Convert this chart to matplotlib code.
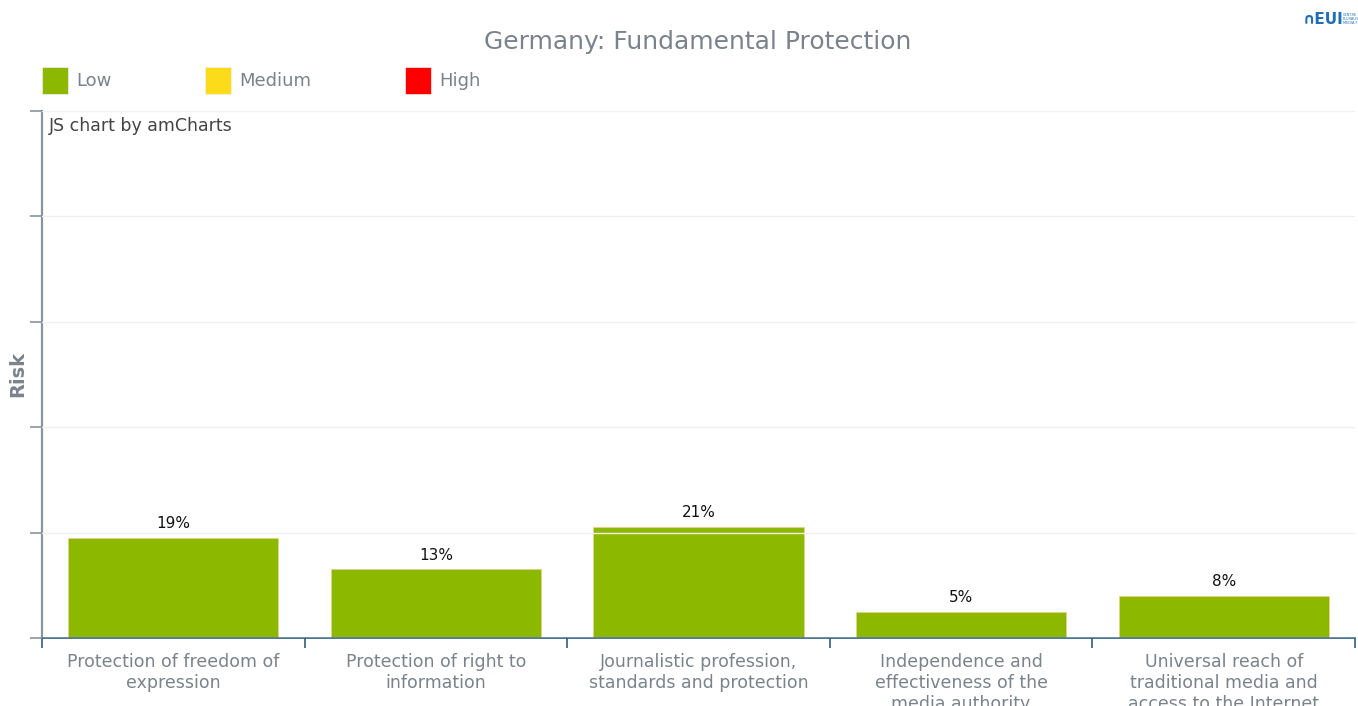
import matplotlib.pyplot as plt
from matplotlib.patches import Rectangle

categories = [
    "Protection of freedom of\nexpression",
    "Protection of right to\ninformation",
    "Journalistic profession,\nstandards and protection",
    "Independence and\neffectiveness of the\nmedia authority",
    "Universal reach of\ntraditional media and\naccess to the Internet",
]
risk_values = [19, 13, 21, 5, 8]
risk_levels = ["Low", "Low", "Low", "Low", "Low"]

level_names = ["Low", "Medium", "High"]
level_colors = {"Low": "#8db800", "Medium": "#fcdc1a", "High": "#ff0000"}

grey = "#7a838b"

fig = plt.figure(figsize=(13.58, 7.06), dpi=100)
W, H = 1358, 706
ax = fig.add_axes([42 / W, 1 - 638 / H, (1355 - 42) / W, (638 - 111) / H])

x = range(len(categories))
ax.bar(x, risk_values, width=0.8,
       color=[level_colors[l] for l in risk_levels],
       edgecolor="#e8cf8a", linewidth=0.6, zorder=2)
for xi, v in zip(x, risk_values):
    ax.text(xi, v + 1.3, f"{v}%", ha="center", va="bottom",
            fontsize=11, color="#111111", zorder=4)

ax.set_xlim(-0.5, len(categories) - 0.5)
ax.set_ylim(0, 100)
ax.set_yticks(range(0, 101, 20))
ax.set_yticklabels([])
ax.grid(axis="y", color="#f0f0f0", linewidth=1, zorder=3)
ax.set_axisbelow(False)

ax.set_xticks([i - 0.5 for i in range(len(categories) + 1)], minor=False)
ax.set_xticklabels([])
ax.set_xticks(list(x), minor=True)
ax.set_xticklabels(categories, minor=True, fontsize=12.5, color=grey,
                   linespacing=1.2)
ax.tick_params(axis="x", which="minor", length=0, pad=11)
ax.tick_params(axis="x", which="major", length=7, direction="out",
               color="#2f5f7f", width=1.2)
ax.tick_params(axis="y", length=9, direction="out", color="#8a949c", width=1.2)

for side in ["top", "right"]:
    ax.spines[side].set_visible(False)
ax.spines["left"].set_color("#8a949c")
ax.spines["left"].set_linewidth(1.6)
ax.spines["bottom"].set_color("#2f5f7f")
ax.spines["bottom"].set_linewidth(1.2)

fig.text(18 / W, 1 - 374 / H, "Risk", rotation=90, ha="center", va="center",
         fontsize=14, fontweight="bold", color=grey)

fig.text(698 / W, 1 - 42 / H, "Germany: Fundamental Protection",
         ha="center", va="center", fontsize=18, color=grey)
fig.text(49 / W, 1 - 126 / H, "JS chart by amCharts",
         ha="left", va="center", fontsize=12.5, color="#444444")

# legend
legend_x = [42, 205, 405]
for name, lx in zip(level_names, legend_x):
    fig.patches.append(Rectangle((lx / W, 1 - 94 / H), 26 / W, 27 / H,
                                 transform=fig.transFigure,
                                 facecolor=level_colors[name],
                                 edgecolor="#f0f0f0", linewidth=0.5))
    fig.text((lx + 34) / W, 1 - 81 / H, name, ha="left", va="center",
             fontsize=13, color=grey)

# logo
fig.text(1303 / W, 1 - 19 / H, "\u2229EUI", ha="left", va="center",
         fontsize=11, fontweight="bold", color="#1f6fb5")
fig.text(1343 / W, 1 - 19 / H, "CENTRE\nPLURALIS\nMEDIA F", ha="left",
         va="center", fontsize=2.5, color="#1f6fb5", linespacing=1.1)

fig.savefig("out.png", dpi=100)
